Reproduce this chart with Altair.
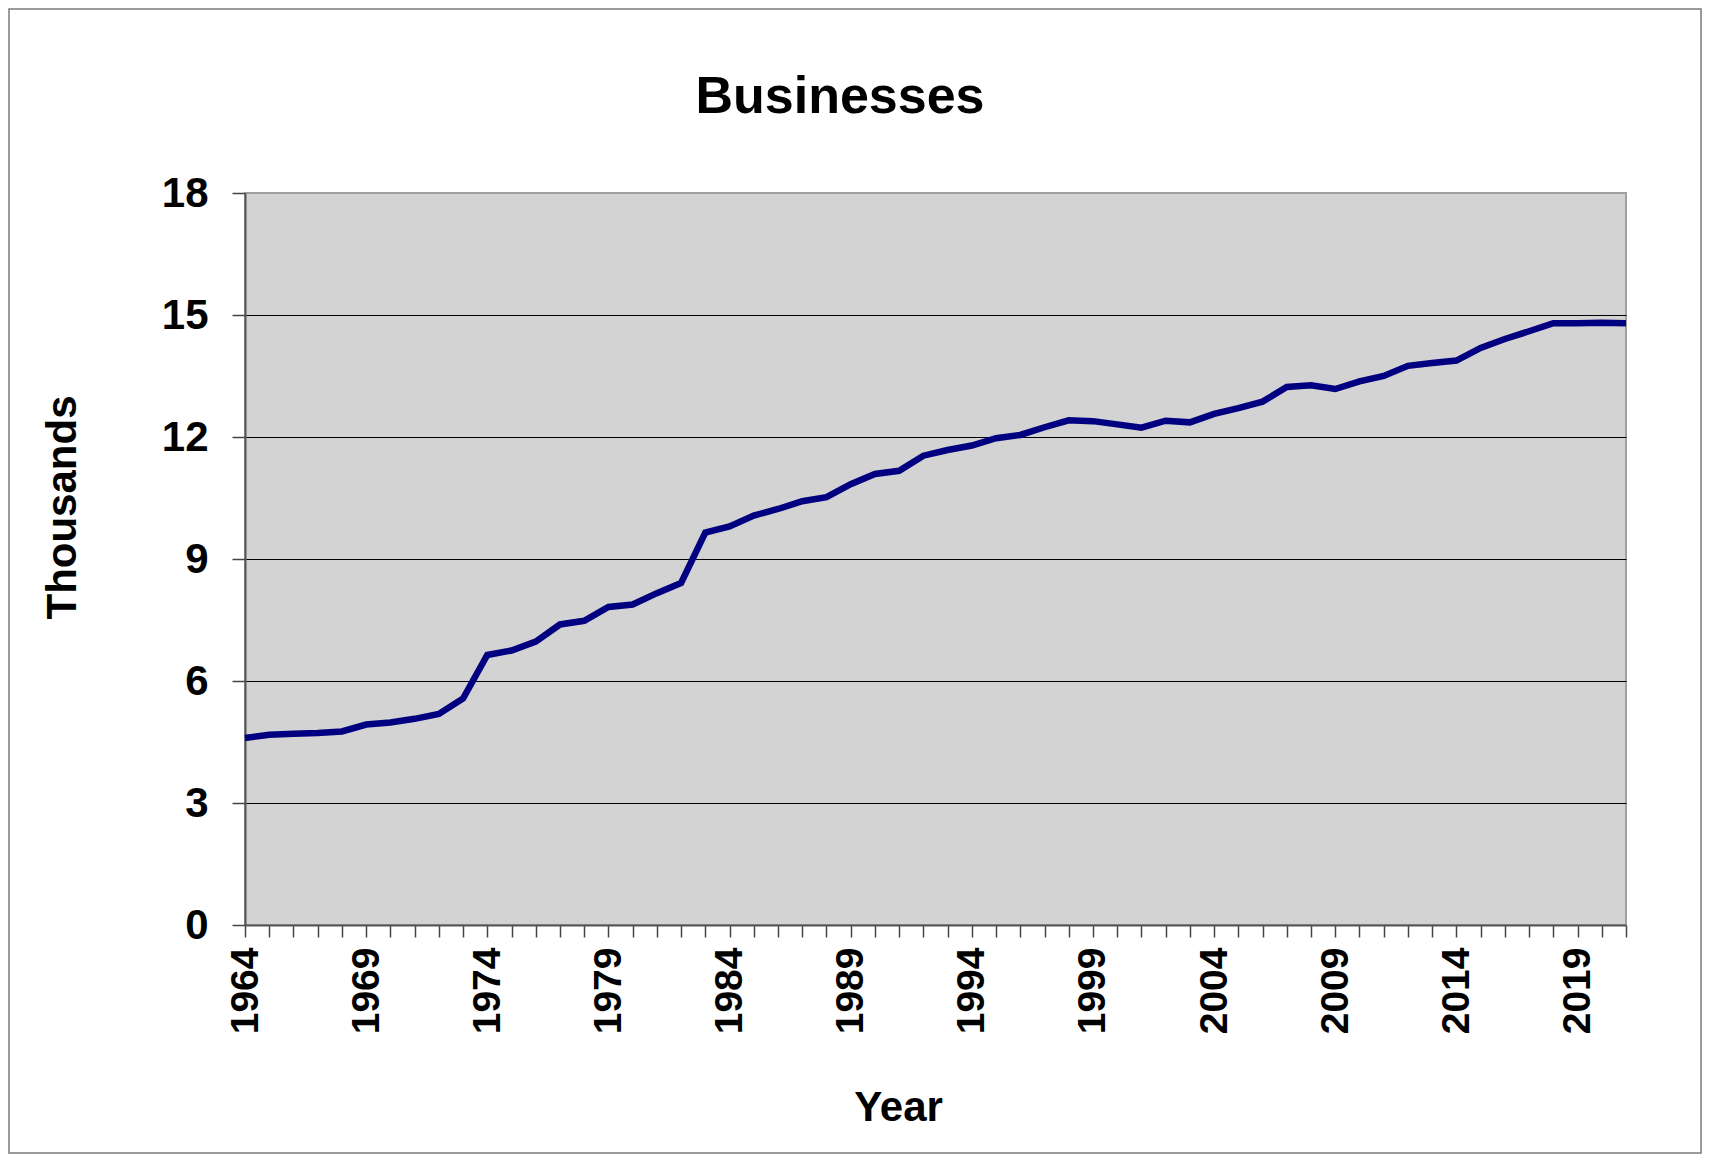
import altair as alt
import pandas as pd

years = list(range(1964, 2022))
values = [
    4.60, 4.68, 4.70, 4.72, 4.76, 4.93, 4.98, 5.07, 5.19, 5.57,
    6.64, 6.75, 6.97, 7.39, 7.48, 7.82, 7.88, 8.16, 8.41, 9.65,
    9.80, 10.07, 10.23, 10.42, 10.52, 10.84, 11.09, 11.17, 11.54, 11.68,
    11.79, 11.97, 12.05, 12.24, 12.41, 12.39, 12.31, 12.23, 12.40, 12.36,
    12.57, 12.71, 12.87, 13.23, 13.27, 13.18, 13.37, 13.50, 13.75, 13.82,
    13.88, 14.19, 14.41, 14.60, 14.80, 14.80, 14.81, 14.80,
]
y_ticks = [0, 3, 6, 9, 12, 15, 18]

title_text = "Businesses"
x_title = "Year"
y_title = "Thousands"

FONT = "Liberation Sans"
W, H = 1381, 732
PAD = {"left": 237, "top": 185, "right": 76, "bottom": 229}

df = pd.DataFrame({"year": years, "value": values})
one = pd.DataFrame({"t": [title_text]})

border = alt.Chart(one).mark_rect(
    fill="white", fillOpacity=0, stroke="#7a7a7a", strokeWidth=1.5
).encode(
    x=alt.value(-PAD["left"] + 1),
    x2=alt.value(W + PAD["right"] - 1),
    y=alt.value(-PAD["top"] + 1),
    y2=alt.value(H + PAD["bottom"] - 1),
)

title = alt.Chart(one).mark_text(
    font=FONT, fontWeight="bold", fontSize=52, color="black",
    align="center", baseline="alphabetic"
).encode(
    text="t:N",
    x=alt.value(595),
    y=alt.value(-80),
)

line = alt.Chart(df).mark_line(color="#000080", strokeWidth=6.5).encode(
    x=alt.X(
        "year:Q",
        scale=alt.Scale(domain=[1964, 2021], nice=False, zero=False),
        axis=alt.Axis(
            values=years,
            format="d",
            labelExpr="(datum.value - 1964) % 5 == 0 ? datum.label : ''",
            labelAngle=270,
            labelOverlap=False,
            labelFont=FONT,
            labelFontWeight="bold",
            labelFontSize=39,
            labelColor="black",
            labelPadding=10,
            tickSize=12,
            tickColor="#444444",
            tickWidth=1.5,
            domainColor="#555555",
            domainWidth=2,
            grid=False,
            title=x_title,
            titleFont=FONT,
            titleFontWeight="bold",
            titleFontSize=42,
            titleColor="black",
            titleX=653,
            titleY=182,
            titleBaseline="middle",
            titleAlign="center",
        ),
    ),
    y=alt.Y(
        "value:Q",
        scale=alt.Scale(domain=[0, 18], nice=False, zero=True),
        axis=alt.Axis(
            values=y_ticks,
            format="d",
            labelFont=FONT,
            labelFontWeight="bold",
            labelFontSize=42,
            labelColor="black",
            labelPadding=24,
            tickSize=13,
            tickColor="#444444",
            tickWidth=1.5,
            domainColor="#555555",
            domainWidth=2,
            grid=True,
            gridColor={"condition": {"test": "datum.value >= 18 || datum.value <= 0", "value": "#a0a0a0"}, "value": "#000000"},
            gridWidth=1.2,
            title=y_title,
            titleFont=FONT,
            titleFontWeight="bold",
            titleFontSize=42,
            titleColor="black",
            titleAngle=270,
            titleX=-183,
            titleY=314,
            titleBaseline="middle",
            titleAlign="center",
        ),
    ),
)

chart = alt.layer(border, title, line).properties(
    width=W,
    height=H,
    padding=PAD,
    background="white",
    autosize=alt.AutoSizeParams(type="none"),
).configure_view(
    fill="#D3D3D3", stroke="#a0a0a0", strokeWidth=2
)

chart.save("out.html", embed_options={"renderer": "svg", "actions": False})
